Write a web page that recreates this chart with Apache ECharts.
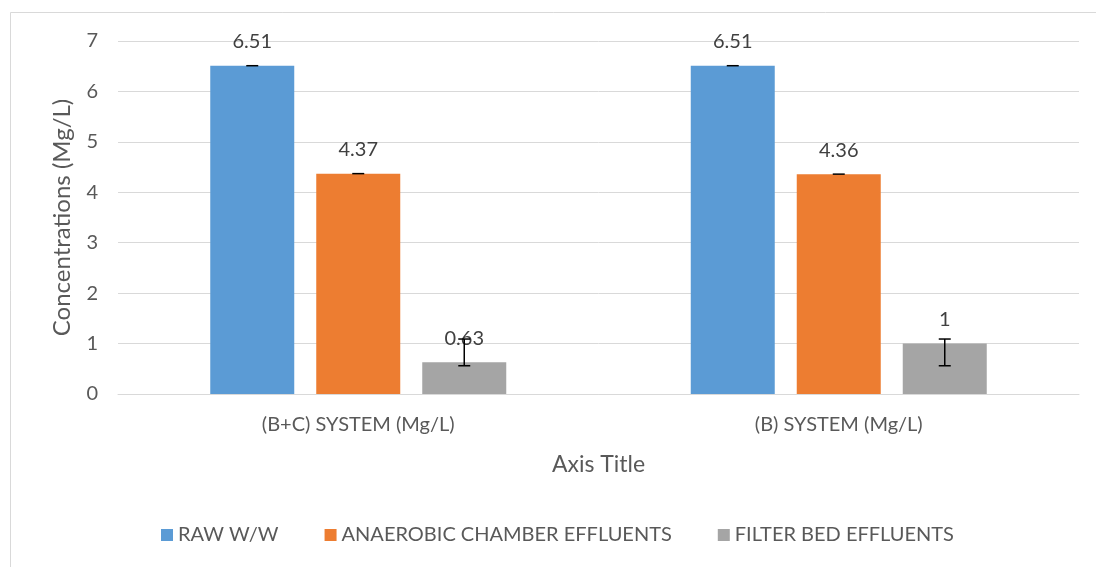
<!DOCTYPE html>
<html>
<head>
<meta charset="utf-8">
<script src="https://cdn.jsdelivr.net/npm/echarts@6/dist/echarts.min.js"></script>
<style>
html,body{margin:0;padding:0;background:#fff;}
#chart{width:1096px;height:567px;}
</style>
</head>
<body>
<div id="chart"></div>
<script>
const categories = ['(B+C) SYSTEM (Mg/L)', '(B) SYSTEM (Mg/L)'];
const seriesNames = ['RAW W/W', 'ANAEROBIC CHAMBER EFFLUENTS', 'FILTER BED EFFLUENTS'];
const rawWW = [6.51, 6.51];
const anaerobic = [4.37, 4.36];
const filterBed = [0.63, 1];
const rawErrLow = [6.51, 6.51];
const rawErrHigh = [6.51, 6.51];
const anaErrLow = [4.37, 4.36];
const anaErrHigh = [4.37, 4.36];
const filterErrLow = [0.56, 0.56];
const filterErrHigh = [1.09, 1.09];
const yTicks = [0, 1, 2, 3, 4, 5, 6, 7];

const colors = ['#5b9bd5', '#ed7d31', '#a5a5a5'];
const FONT = 'Lato';
const TXT = '#595959';
const BAR_W = 84;
const BAR_GAP = 22;

const chart = echarts.init(document.getElementById('chart'), null, {renderer: 'canvas'});

function barSeries(name, data, color) {
  return {
    name: name, type: 'bar', data: data, barWidth: BAR_W, barGap: (BAR_GAP / BAR_W * 100) + '%',
    itemStyle: {color: color},
    label: {show: true, position: 'top', distance: 14, color: '#404040', fontFamily: FONT, fontSize: 20},
    z: 2
  };
}

function errSeries(idx, low, high) {
  const data = categories.map((c, i) => [i, low[i], high[i]]);
  return {
    type: 'custom', name: seriesNames[idx] + ' err', z: 5, silent: true,
    data: data,
    encode: {x: 0, y: [1, 2]},
    renderItem: function (params, api) {
      const off = (idx - 1) * (BAR_W + BAR_GAP);
      const pLow = api.coord([api.value(0), api.value(1)]);
      const pHigh = api.coord([api.value(0), api.value(2)]);
      const x = pLow[0] + off;
      const cap = 6;
      const style = {stroke: '#000', lineWidth: 1.5};
      const children = [
        {type: 'line', shape: {x1: x, y1: pHigh[1], x2: x, y2: pLow[1]}, style: style},
        {type: 'line', shape: {x1: x - cap, y1: pHigh[1], x2: x + cap, y2: pHigh[1]}, style: style}
      ];
      if (Math.abs(pLow[1] - pHigh[1]) > 0.5) {
        children.push({type: 'line', shape: {x1: x - cap, y1: pLow[1], x2: x + cap, y2: pLow[1]}, style: style});
      }
      return {type: 'group', children: children};
    }
  };
}

const option = {
  backgroundColor: '#fff',
  animation: false,
  textStyle: {fontFamily: FONT},
  graphic: [{
    type: 'rect', shape: {x: 10.5, y: 12.5, width: 1200, height: 700},
    style: {fill: 'none', stroke: '#d9d9d9', lineWidth: 1}, silent: true, z: -1
  }],
  grid: {left: 118, right: 17, top: 41, bottom: 173},
  legend: {
    data: seriesNames, bottom: 17, left: 156, itemWidth: 12, itemHeight: 12, itemGap: 46,
    icon: 'rect',
    textStyle: {color: TXT, fontFamily: FONT, fontSize: 20}
  },
  xAxis: {
    type: 'category', data: categories,
    name: 'Axis Title', nameLocation: 'middle', nameGap: 59,
    nameTextStyle: {color: TXT, fontFamily: FONT, fontSize: 23},
    axisLine: {show: true, lineStyle: {color: '#d9d9d9', width: 1}},
    axisTick: {show: false},
    axisLabel: {color: TXT, fontFamily: FONT, fontSize: 20, margin: 21}
  },
  yAxis: {
    type: 'value', min: yTicks[0], max: yTicks[yTicks.length - 1], interval: 1,
    name: 'Concentrations (Mg/L)', nameLocation: 'middle', nameGap: 44,
    nameTextStyle: {color: TXT, fontFamily: FONT, fontSize: 24},
    axisLine: {show: false}, axisTick: {show: false},
    axisLabel: {color: TXT, fontFamily: FONT, fontSize: 20, margin: 20},
    splitLine: {lineStyle: {color: '#d9d9d9', width: 1}}
  },
  series: [
    barSeries(seriesNames[0], rawWW, colors[0]),
    barSeries(seriesNames[1], anaerobic, colors[1]),
    barSeries(seriesNames[2], filterBed, colors[2]),
    errSeries(0, rawErrLow, rawErrHigh),
    errSeries(1, anaErrLow, anaErrHigh),
    errSeries(2, filterErrLow, filterErrHigh)
  ]
};
chart.setOption(option);
</script>
</body>
</html>
